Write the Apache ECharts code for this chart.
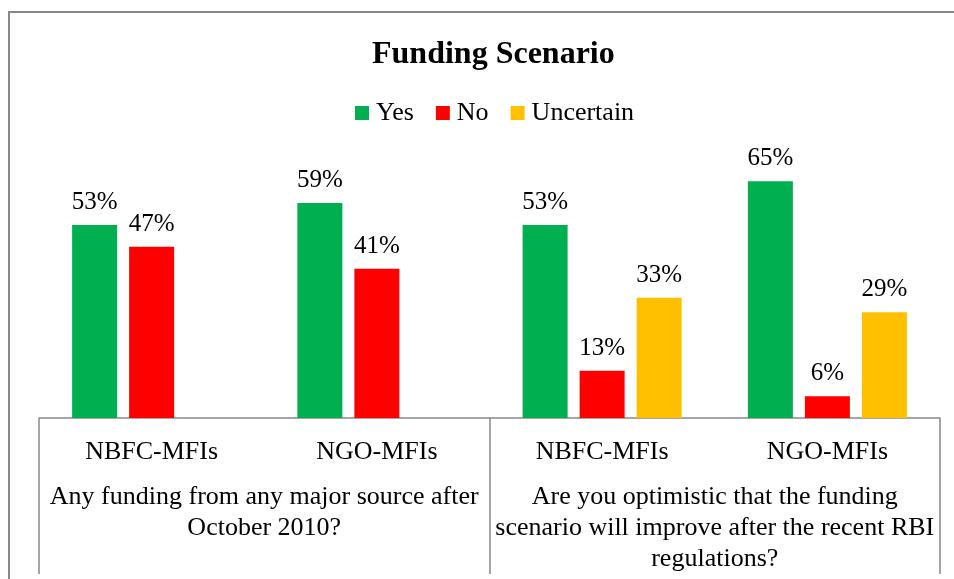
<!DOCTYPE html>
<html>
<head>
<meta charset="utf-8">
<script src="https://cdn.jsdelivr.net/npm/echarts@6/dist/echarts.min.js"></script>
<style>
  html, body { margin: 0; padding: 0; background: #fff; overflow: hidden; }
  #wrap { position: relative; width: 954px; height: 579px; }
  #chart { position: absolute; left: 0; top: 0; width: 954px; height: 579px; }
  #frame { position: absolute; left: 8px; top: 11px; width: 1000px; height: 700px;
           border: 2px solid #878787; box-sizing: border-box; pointer-events: none; }
</style>
</head>
<body>
<div id="wrap">
  <div id="chart"></div>
  <div id="frame"></div>
</div>
<script>
const categories = ['NBFC-MFIs', 'NGO-MFIs', 'NBFC-MFIs', 'NGO-MFIs'];
const groups = [
  'Any funding from any major source after\nOctober 2010?',
  'Are you optimistic that the funding\nscenario will improve after the recent RBI\nregulations?'
];
const yesValues = [53, 59, 53, 65];
const noValues = [47, 41, 13, 6];
const uncertainValues = [null, null, 33, 29];

const FONT = "'Liberation Serif', 'Times New Roman', serif";
const chart = echarts.init(document.getElementById('chart'), null, { renderer: 'canvas' });

const labelCfg = {
  show: true,
  position: 'top',
  distance: 10,
  fontFamily: FONT,
  fontSize: 25,
  color: '#000',
  formatter: p => (p.value == null ? '' : p.value + '%')
};

chart.setOption({
  animation: false,
  backgroundColor: '#fff',
  title: {
    text: 'Funding Scenario',
    left: 367,
    top: 34,
    textStyle: { fontFamily: FONT, fontSize: 32, fontWeight: 'bold', color: '#000' }
  },
  legend: {
    top: 95,
    left: 350,
    icon: 'rect',
    itemWidth: 14,
    itemHeight: 14,
    itemGap: 22,
    textStyle: { fontFamily: FONT, fontSize: 26, color: '#000', padding: [0, 0, 0, 2] },
    data: ['Yes', 'No', 'Uncertain']
  },
  grid: { left: 39, right: 14, top: 163, bottom: 161, containLabel: false },
  xAxis: [
    {
      type: 'category',
      data: categories,
      position: 'bottom',
      axisLine: { show: true, lineStyle: { color: '#898989', width: 1.5 } },
      axisTick: { show: false },
      axisLabel: { interval: 0, margin: 21, fontFamily: FONT, fontSize: 26, color: '#000' }
    },
    {
      type: 'category',
      data: groups,
      position: 'bottom',
      axisLine: { show: false },
      axisTick: { show: true, interval: 0, length: 156, lineStyle: { color: '#898989', width: 1.5 } },
      axisLabel: { interval: 0, margin: 64, fontFamily: FONT, fontSize: 26, lineHeight: 31, color: '#000', align: 'center' }
    }
  ],
  yAxis: {
    type: 'value',
    min: 0,
    max: 70,
    show: false,
    splitLine: { show: false }
  },
  series: [
    { name: 'Yes', type: 'bar', xAxisIndex: 0, data: yesValues, barWidth: 45, barGap: '26.7%',
      itemStyle: { color: '#00B050' }, label: labelCfg },
    { name: 'No', type: 'bar', xAxisIndex: 0, data: noValues, barWidth: 45, barGap: '26.7%',
      itemStyle: { color: '#FF0000' }, label: labelCfg },
    { name: 'Uncertain', type: 'bar', xAxisIndex: 0, data: uncertainValues, barWidth: 45, barGap: '26.7%',
      itemStyle: { color: '#FFC000' }, label: labelCfg }
  ]
});
</script>
</body>
</html>
